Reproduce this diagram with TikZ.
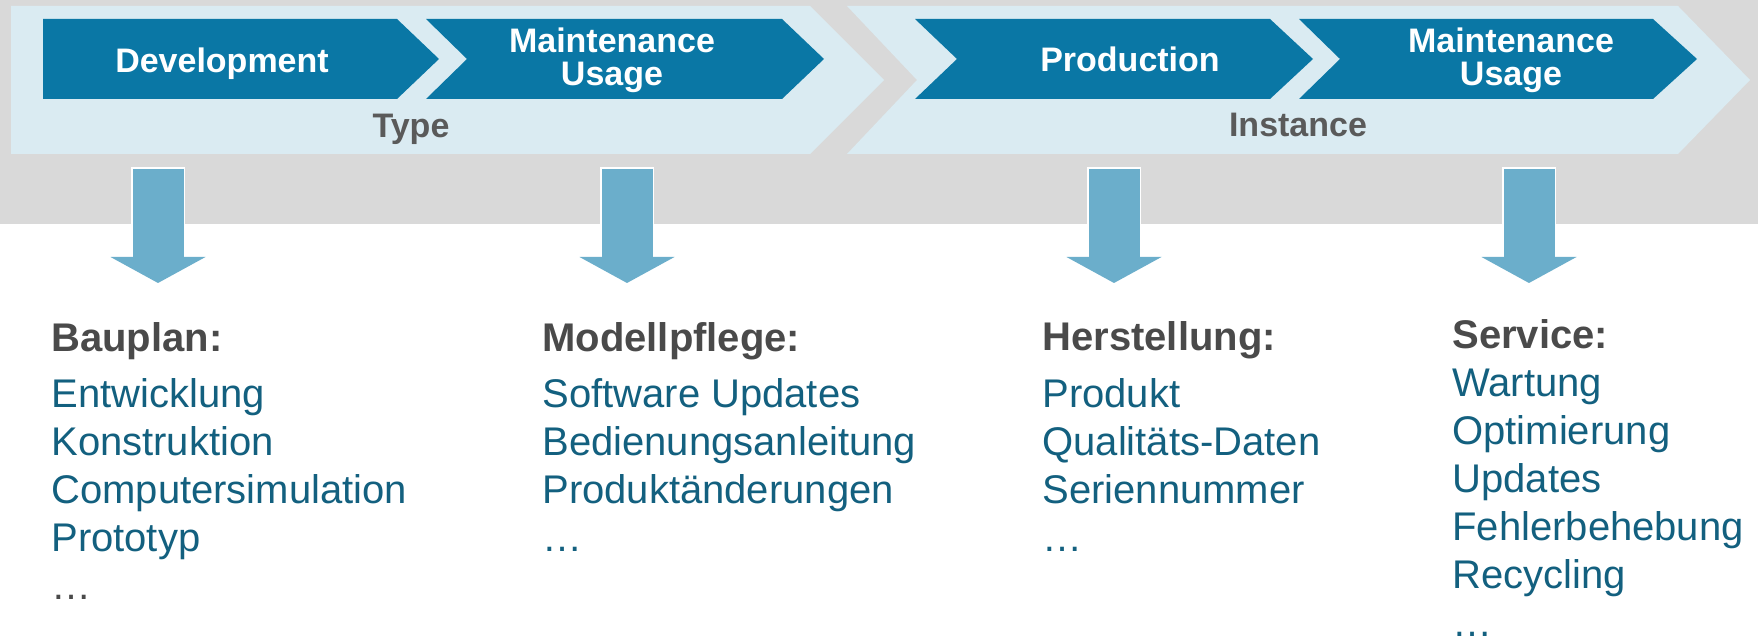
\documentclass[tikz,border=0pt]{standalone}
\usepackage{fontspec}
\setmainfont{Liberation Sans}
\usepackage[]{xcolor}
\usetikzlibrary{arrows.meta}
\definecolor{bandgray}{HTML}{D9D9D9}
\definecolor{phaselight}{HTML}{DAEBF2}
\definecolor{stepblue}{HTML}{0A77A5}
\definecolor{pointblue}{HTML}{6BAECB}
\definecolor{itemblue}{HTML}{13607F}
\definecolor{headgray}{HTML}{4A4A4A}
\definecolor{phasegray}{HTML}{5A5A5A}
\tikzset{steptext/.style = {text=white, font=\bfseries\fontsize{17}{16.5}\selectfont, align=center, inner sep=0, anchor=base}}
\tikzset{phasetext/.style = {text=phasegray, font=\bfseries\fontsize{17}{16.5}\selectfont, inner sep=0, anchor=base}}
\tikzset{head/.style = {text=headgray, font=\bfseries\fontsize{20}{24}\selectfont, inner sep=0, anchor=base west}}
\tikzset{item/.style = {text=itemblue, font=\fontsize{20}{24}\selectfont, inner sep=0, anchor=base west}}
\tikzset{pointer/.style = {draw=pointblue, line width=25.5pt, -{Triangle[width=47.5pt,length=13pt,line width=0pt]},
        preaction={draw=white, line width=27pt, shorten <=-0.75pt, -{Triangle[width=50pt,length=14pt,line width=0pt]}}}}

\begin{document}
\begin{tikzpicture}[x=0.5pt,y=-0.5pt]
        \fill [white] (0,0) rectangle (1758,640);
        \fill [bandgray] (0,0) rectangle (1758,224);
        % phases
        \fill [phaselight] (11,6) -- (810,6) -- (884,80) -- (810,154) -- (11,154) -- cycle;
        \fill [phaselight] (847,6) -- (1678,6) -- (1750,80) -- (1678,154) -- (847,154) -- (917,80) -- cycle;
        % steps
        \fill [stepblue] (43,19) -- (397,19) -- (439,59) -- (397,99) -- (43,99) -- cycle;
        \fill [stepblue] (426,19) -- (782,19) -- (824,59) -- (782,99) -- (426,99) -- (467,59) -- cycle;
        \fill [stepblue] (915,19) -- (1270,19) -- (1313,59) -- (1270,99) -- (915,99) -- (957,59) -- cycle;
        \fill [stepblue] (1299,19) -- (1653,19) -- (1697,59) -- (1653,99) -- (1299,99) -- (1340,59) -- cycle;
        \node [steptext] (dev) at (222,73) {Development};
        \node [steptext] (mtype) at (612,86) {Maintenance\\Usage};
        \node [steptext] (prod) at (1130,72) {Production};
        \node [steptext] (minst) at (1511,86) {Maintenance\\Usage};
        \node [phasetext] (type) at (411,138) {Type};
        \node [phasetext] (inst) at (1298,137) {Instance};
        % pointers
        \foreach \x [count=\i] in {158,627,1114,1529} {
            \coordinate (p\i) at (\x,169);
            \coordinate (q\i) at (\x,283);
            \draw [pointer] (p\i) -- (q\i);
        }
        % lists
        \node [head] (bau) at (51,352) {Bauplan:};
        \foreach \t [count=\i] in {Entwicklung,Konstruktion,Computersimulation,Prototyp}
            \node [item] (bau\i) at (51,360+48*\i) {\t};
        \node [item, text=headgray] (bau5) at (51,600) {…};
        \node [head] (mod) at (542,352) {Modellpflege:};
        \foreach \t [count=\i] in {Software Updates,Bedienungsanleitung,Produktänderungen,…}
            \node [item] (mod\i) at (542,360+48*\i) {\t};
        \node [head] (her) at (1042,351) {Herstellung:};
        \foreach \t [count=\i] in {Produkt,Qualitäts-Daten,Seriennummer,…}
            \node [item] (her\i) at (1042,360+48*\i) {\t};
        \node [head] (ser) at (1452,349) {Service:};
        \foreach \t [count=\i] in {Wartung,Optimierung,Updates,Fehlerbehebung,Recycling,…}
            \node [item] (ser\i) at (1452,349+48*\i) {\t};
        \pgfresetboundingbox
        \useasboundingbox (0,0) rectangle (1758,640);
    \end{tikzpicture}
\end{document}
